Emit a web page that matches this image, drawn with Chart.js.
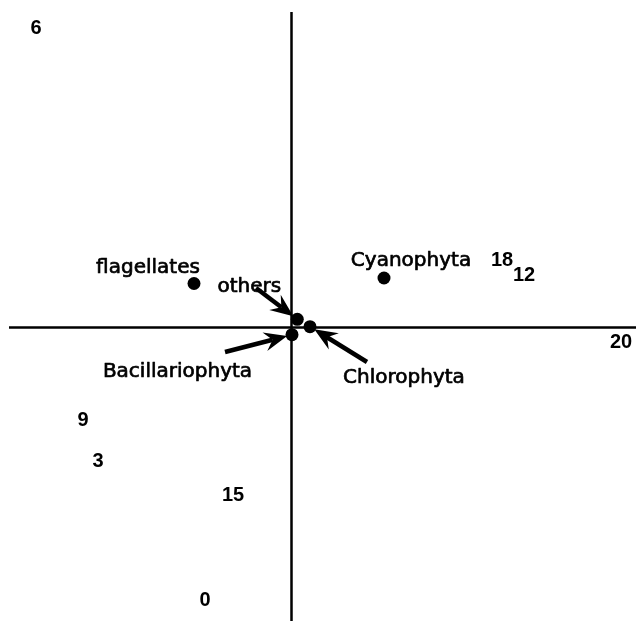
<!DOCTYPE html>
<html><head><meta charset="utf-8">
<script src="https://cdn.jsdelivr.net/npm/chart.js@4/dist/chart.umd.min.js"></script>
<style>html,body{margin:0;padding:0;background:#fff;overflow:hidden}canvas{display:block}</style>
</head><body>
<canvas id="c" width="636" height="621"></canvas>
<script>
// ---- data ----
const speciesNames = ['flagellates', 'others', 'Cyanophyta', 'Bacillariophyta', 'Chlorophyta'];
const speciesX = [-0.975, 0.058, 0.925, 0.005, 0.185];
const speciesY = [0.44, 0.082, 0.495, -0.072, 0.008];
const siteLabels = ['6', '18', '12', '20', '9', '3', '15', '0'];
const siteX = [-2.555, 2.105, 2.325, 3.295, -2.085, -1.935, -0.585, -0.865];
const siteY = [2.988, 0.675, 0.52, -0.15, -0.925, -1.335, -1.68, -2.73];
// arrow tails (data units) for species whose labels point with arrows (null = no arrow)
const arrowTailX = [null, -0.355, null, -0.665, 0.755];
const arrowTailY = [null, 0.395, null, -0.245, -0.345];
// axis extents
const xAxisRange = [-2.825, 3.445];
const yAxisRange = [-2.935, 3.155];

// ---- layout (pixel offsets of species labels relative to their point; centre x, baseline y) ----
const labelDx = [-46, -48, 27, -114.5, 94];
const labelDy = [-10.5, -27.6, -12, 42.3, 56.3];

const labelPlugin = {
  id: 'labels',
  afterDatasetsDraw(chart) {
    const ctx = chart.ctx, xs = chart.scales.x, ys = chart.scales.y;
    ctx.save();
    // arrows
    ctx.strokeStyle = '#000'; ctx.fillStyle = '#000';
    speciesNames.forEach((n, i) => {
      if (arrowTailX[i] === null) return;
      const px = xs.getPixelForValue(speciesX[i]), py = ys.getPixelForValue(speciesY[i]);
      const tx = xs.getPixelForValue(arrowTailX[i]), ty = ys.getPixelForValue(arrowTailY[i]);
      const dx = px - tx, dy = py - ty, L = Math.hypot(dx, dy);
      const ux = dx / L, uy = dy / L;
      const tipX = px - ux * 5, tipY = py - uy * 5;
      const head = 23, hw = 9.5, notch = 15;
      const bx = tipX - ux * head, by = tipY - uy * head;
      const nx = -uy, ny = ux;
      ctx.lineWidth = 4.5; ctx.lineCap = 'butt';
      ctx.beginPath(); ctx.moveTo(tx, ty);
      ctx.lineTo(tipX - ux * notch, tipY - uy * notch); ctx.stroke();
      ctx.beginPath();
      ctx.moveTo(tipX, tipY);
      ctx.lineTo(bx + nx * hw, by + ny * hw);
      ctx.lineTo(tipX - ux * notch, tipY - uy * notch);
      ctx.lineTo(bx - nx * hw, by - ny * hw);
      ctx.closePath(); ctx.fill();
    });
    // species labels
    ctx.font = '20px "DejaVu Sans"';
    ctx.textAlign = 'center'; ctx.textBaseline = 'alphabetic';
    ctx.lineWidth = 0.7; ctx.lineJoin = 'round';
    speciesNames.forEach((n, i) => {
      const px = xs.getPixelForValue(speciesX[i]), py = ys.getPixelForValue(speciesY[i]);
      ctx.fillText(n, px + labelDx[i], py + labelDy[i]);
      ctx.strokeText(n, px + labelDx[i], py + labelDy[i]);
    });
    // site labels
    ctx.font = 'bold 20px "Liberation Sans"';
    ctx.textBaseline = 'middle';
    siteLabels.forEach((s, i) => {
      ctx.fillText(s, xs.getPixelForValue(siteX[i]), ys.getPixelForValue(siteY[i]));
    });
    ctx.restore();
  }
};

new Chart(document.getElementById('c'), {
  type: 'scatter',
  data: {
    datasets: [
      { data: [{x: xAxisRange[0], y: 0}, {x: xAxisRange[1], y: 0}], showLine: true, borderColor: '#000', borderWidth: 2.5, pointRadius: 0, clip: false },
      { data: [{x: 0, y: yAxisRange[1]}, {x: 0, y: yAxisRange[0]}], showLine: true, borderColor: '#000', borderWidth: 2.5, pointRadius: 0, clip: false },
      { data: speciesX.map((x, i) => ({x, y: speciesY[i]})), pointRadius: 6.5, pointBackgroundColor: '#000', pointBorderColor: '#000', borderWidth: 0, pointBorderWidth: 0, pointHoverRadius: 0, clip: false },
      { data: siteX.map((x, i) => ({x, y: siteY[i]})), pointRadius: 0, pointHoverRadius: 0, clip: false }
    ]
  },
  options: {
    responsive: false, animation: false, devicePixelRatio: 1, events: [],
    layout: { padding: 0, autoPadding: false },
    plugins: { legend: { display: false }, tooltip: { enabled: false } },
    scales: {
      x: { type: 'linear', min: -2.915, max: 3.445, display: false },
      y: { type: 'linear', min: -2.935, max: 3.275, display: false }
    }
  },
  plugins: [labelPlugin]
});
</script>
</body></html>
